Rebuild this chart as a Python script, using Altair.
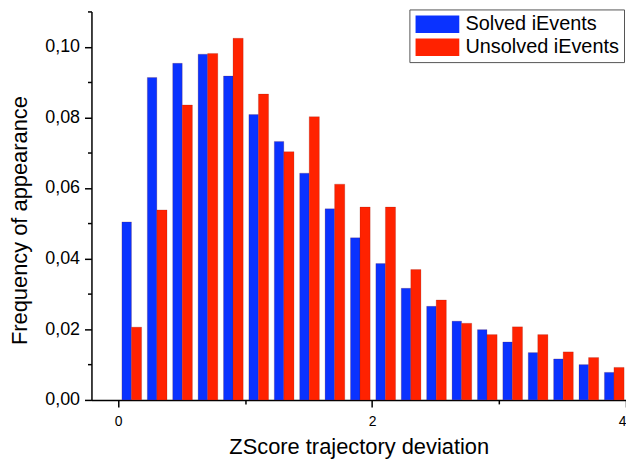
import altair as alt
import pandas as pd

# ---- data ----
bin_starts = [0.0, 0.2, 0.4, 0.6, 0.8, 1.0, 1.2, 1.4, 1.6, 1.8,
              2.0, 2.2, 2.4, 2.6, 2.8, 3.0, 3.2, 3.4, 3.6, 3.8]
solved = [0.0504, 0.0913, 0.0953, 0.0979, 0.0917, 0.0808, 0.0732, 0.0642, 0.0541, 0.0459,
          0.0386, 0.0316, 0.0265, 0.0223, 0.0199, 0.0164, 0.0134, 0.0116, 0.0100, 0.0078]
unsolved = [0.0206, 0.0538, 0.0835, 0.0981, 0.1024, 0.0866, 0.0703, 0.0802, 0.0611, 0.0546,
            0.0546, 0.0369, 0.0283, 0.0217, 0.0185, 0.0207, 0.0185, 0.0136, 0.0120, 0.0092]
series_names = ["Solved iEvents", "Unsolved iEvents"]
x_major = [0, 2, 4]
x_minor = [1, 3]
y_major = [0.0, 0.02, 0.04, 0.06, 0.08, 0.10]
y_minor = [0.01, 0.03, 0.05, 0.07, 0.09, 0.11]

# ---- style: position of each bar inside its bin (value units) ----
offsets = {"Solved iEvents": (0.03, 0.105), "Unsolved iEvents": (0.105, 0.185)}

rows = []
for name, vals in zip(series_names, [solved, unsolved]):
    a, b = offsets[name]
    for s, v in zip(bin_starts, vals):
        rows.append({"series": name, "x0": s + a, "x1": s + b, "value": v})
df = pd.DataFrame(rows)

FONT = "Liberation Sans"
xscale = alt.Scale(domain=[-0.21, 4.0], nice=False, zero=False, padding=0)
yscale = alt.Scale(domain=[0, 0.11], nice=False, zero=True, padding=0)

color = alt.Color(
    "series:N",
    scale=alt.Scale(domain=series_names, range=["#0A32FF", "#FF2200"]),
    legend=alt.Legend(
        orient="none", legendX=320, legendY=-2, title=None,
        symbolType="M-2.5,-1H2.5V1H-2.5Z", symbolSize=310,
        symbolOffset=13.2, symbolStrokeWidth=0, symbolOpacity=1,
        labelFont=FONT, labelFontSize=20, labelColor="black",
        labelOffset=18.2, strokeColor="#555555", fillColor="white",
        padding=5, rowPadding=3,
    ),
)

bars = alt.Chart(df).mark_bar(strokeWidth=0.6, stroke="#7a1a10", strokeOpacity=0.35).encode(
    x=alt.X("x0:Q", scale=xscale,
            axis=alt.Axis(values=x_major, format="d", tickSize=7, labelFontSize=14,
                          labelPadding=8, orient="bottom", title="ZScore trajectory deviation",
                          titleY=54, titleBaseline="alphabetic")),
    x2="x1:Q",
    y=alt.Y("value:Q", scale=yscale,
            axis=alt.Axis(values=y_major, tickSize=7, labelFontSize=18, labelPadding=5,
                          labelExpr="replace(format(datum.value, '.2f'), '.', ',')",
                          orient="left", title="Frequency of appearance",
                          titleX=-65, titleY=210, titleAngle=270,
                          titleBaseline="alphabetic", titleAlign="center")),
    y2=alt.datum(0),
    color=color,
)

minor = alt.Chart(df).mark_point(opacity=0).encode(
    x=alt.X("x0:Q", scale=xscale,
            axis=alt.Axis(values=x_minor, labels=False, domain=False, tickSize=4,
                          orient="bottom", title=None)),
    y=alt.Y("value:Q", scale=yscale,
            axis=alt.Axis(values=y_minor, labels=False, domain=False, tickSize=4,
                          orient="left", title=None)),
)

chart = alt.layer(bars, minor).resolve_axis(x="independent", y="independent").properties(
    width=538, height=391,
    autosize=alt.AutoSizeParams(type="none"),
    padding={"left": 84, "top": 2, "right": 0, "bottom": 59},
).configure_view(stroke=None).configure_axis(
    grid=False, domainColor="black", domainWidth=1.5, tickColor="black", tickWidth=1.5,
    labelFont=FONT, labelColor="black", titleFont=FONT, titleFontSize=22,
    titleFontWeight="normal", titleColor="black",
)

chart.save("out.html", embed_options={"renderer": "svg", "actions": False})
